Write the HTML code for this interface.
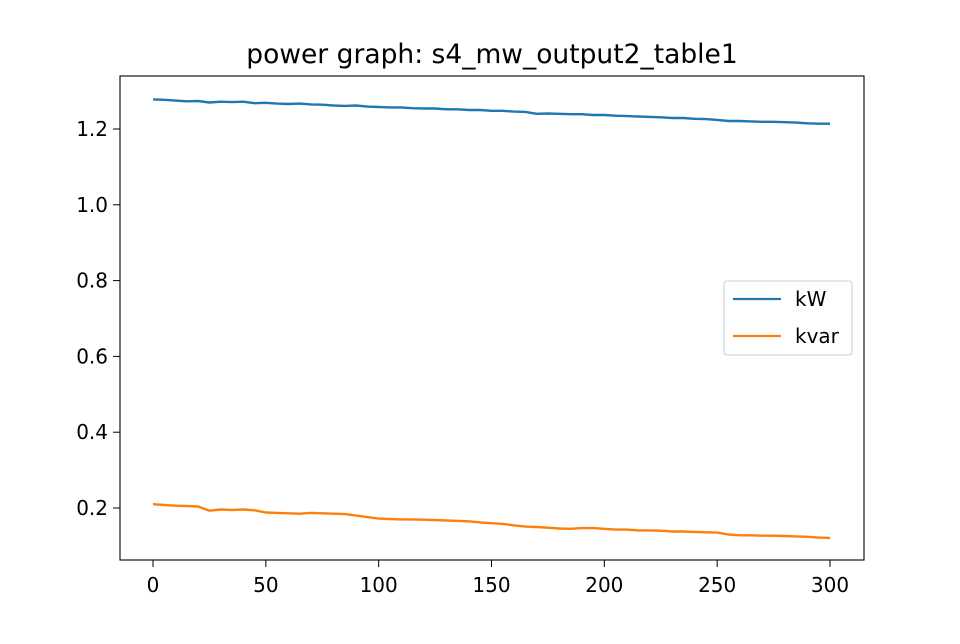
<!DOCTYPE html>
<html><head><meta charset="utf-8"><style>
body{margin:0;background:#fff;font-family:"DejaVu Sans","Liberation Sans",sans-serif}
</style></head><body>
<svg id="chart" width="960" height="640" xmlns="http://www.w3.org/2000/svg" font-family="DejaVu Sans, Liberation Sans, sans-serif">
<rect width="960" height="640" fill="#fff"/>
<text x="492" y="63" font-size="26.5" text-anchor="middle">power graph: s4_mw_output2_table1</text>
<g id="plot"></g>
<rect x="120" y="76" width="744" height="484" fill="none" stroke="#000" stroke-width="1.1"/>
<g>
<rect x="724" y="281" width="128" height="74" rx="3" fill="#fff" stroke="#ccc" stroke-width="1"/>
<line x1="733" y1="299" x2="781" y2="299" stroke="#1f77b4" stroke-width="2.2"/>
<text x="795" y="306" font-size="20">kW</text>
<line x1="733" y1="336" x2="781" y2="336" stroke="#ff7f0e" stroke-width="2.2"/>
<text x="795" y="343" font-size="20">kvar</text>
</g>
</svg>
<script>
const xTicks=[0,50,100,150,200,250,300];
const yTicks=[0.2,0.4,0.6,0.8,1.0,1.2];
const yTickLabels=["0.2","0.4","0.6","0.8","1.0","1.2"];
const kwValues=[1.278,1.277,1.275,1.273,1.274,1.270,1.272,1.271,1.272,1.268,1.269,1.267,1.266,1.267,1.265,1.264,1.262,1.261,1.262,1.259,1.258,1.257,1.257,1.255,1.254,1.254,1.252,1.252,1.250,1.250,1.248,1.248,1.246,1.245,1.240,1.241,1.240,1.239,1.239,1.237,1.237,1.235,1.234,1.233,1.232,1.231,1.229,1.229,1.227,1.226,1.224,1.221,1.221,1.220,1.219,1.219,1.218,1.217,1.215,1.214,1.214];
const kvarValues=[0.210,0.208,0.206,0.205,0.204,0.193,0.196,0.195,0.196,0.194,0.188,0.187,0.186,0.185,0.187,0.186,0.185,0.184,0.180,0.176,0.172,0.171,0.170,0.170,0.169,0.168,0.167,0.166,0.165,0.162,0.160,0.158,0.154,0.151,0.150,0.148,0.146,0.145,0.147,0.147,0.145,0.143,0.143,0.141,0.141,0.140,0.138,0.138,0.137,0.136,0.135,0.130,0.128,0.128,0.127,0.127,0.126,0.125,0.124,0.122,0.121];
const NS="http://www.w3.org/2000/svg";
const X=v=>153+(v/300)*677;
const Y=v=>129-(v-1.2)*379;
const g=document.getElementById('plot');
function mk(t,a){const e=document.createElementNS(NS,t);for(const k in a)e.setAttribute(k,a[k]);g.appendChild(e);return e;}
xTicks.forEach(t=>{
 const l=mk('line',{x1:X(t),x2:X(t),y1:560,y2:567,stroke:'#000'});
 
 
 const tx=mk('text',{x:X(t),y:592,'font-size':20,'text-anchor':'middle'});tx.textContent=t;
 
 
});
yTicks.forEach((t,i)=>{
 const l=mk('line',{x1:113,x2:120,y1:Y(t),y2:Y(t),stroke:'#000'});
 
 
 const tx=mk('text',{x:108,y:Y(t)+7,'font-size':20,'text-anchor':'end'});tx.textContent=yTickLabels[i];
 
 
});
function series(vals,color,name){
 const n=vals.length;
 const d=vals.map((v,i)=>(i?'L':'M')+X(i*300/(n-1)).toFixed(1)+','+Y(v).toFixed(1)).join('');
 const p=mk('path',{d:d,fill:'none',stroke:color,'stroke-width':2.4,'stroke-linejoin':'round'});
 
 
}
series(kwValues,'#1f77b4','kw-line');
series(kvarValues,'#ff7f0e','kvar-line');
</script>
</body></html>
